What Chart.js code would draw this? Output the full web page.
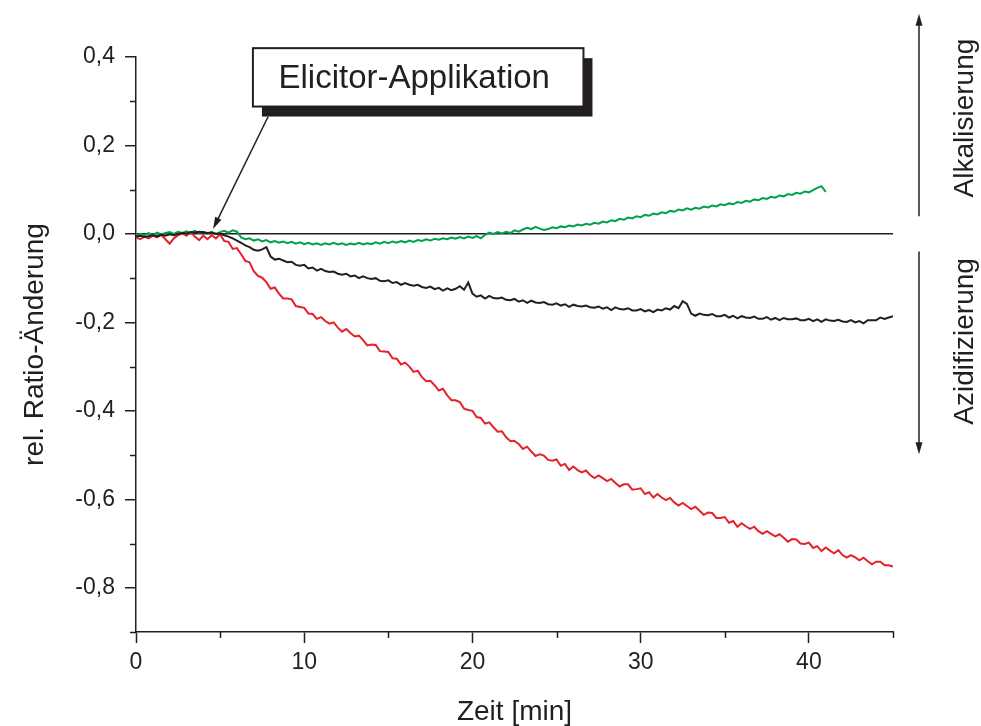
<!DOCTYPE html>
<html lang="de">
<head>
<meta charset="utf-8">
<title>Ratio-Änderung</title>
<script src="https://cdn.jsdelivr.net/npm/chart.js@4/dist/chart.umd.min.js"></script>
<style>
  body { margin: 0; background: #fff; }
  canvas { display: block; }
</style>
</head>
<body>
<canvas id="grafik" width="981" height="726"></canvas>
<script>
// Messzeit in Minuten, ein Wert alle 0,25 min
const zeitSchritt = 0.25;

// rel. Ratio-Änderung, rote Kurve (0 bis 45 min)
const ratioRot = [
  -0.008, -0.012, -0.006, -0.010, -0.004, -0.008, -0.002, -0.012, -0.022, -0.010,
  -0.003, 0.002, -0.004, 0.004, -0.006, -0.014, -0.004, -0.012, -0.003, -0.010,
  -0.001, -0.016, -0.018, -0.034, -0.032, -0.046, -0.061, -0.064, -0.084, -0.095,
  -0.099, -0.109, -0.124, -0.121, -0.135, -0.146, -0.146, -0.148, -0.163, -0.165,
  -0.167, -0.180, -0.181, -0.192, -0.188, -0.197, -0.203, -0.200, -0.212, -0.221,
  -0.215, -0.224, -0.232, -0.230, -0.240, -0.252, -0.250, -0.251, -0.265, -0.266,
  -0.267, -0.281, -0.282, -0.295, -0.291, -0.300, -0.312, -0.309, -0.324, -0.333,
  -0.332, -0.342, -0.354, -0.350, -0.365, -0.376, -0.376, -0.380, -0.395, -0.398,
  -0.400, -0.414, -0.416, -0.429, -0.426, -0.437, -0.447, -0.446, -0.460, -0.468,
  -0.468, -0.475, -0.486, -0.481, -0.492, -0.502, -0.498, -0.501, -0.511, -0.513,
  -0.510, -0.524, -0.520, -0.534, -0.526, -0.534, -0.539, -0.535, -0.545, -0.552,
  -0.546, -0.552, -0.559, -0.554, -0.563, -0.571, -0.566, -0.566, -0.578, -0.577,
  -0.575, -0.588, -0.584, -0.596, -0.588, -0.596, -0.602, -0.597, -0.607, -0.614,
  -0.608, -0.615, -0.622, -0.617, -0.626, -0.635, -0.630, -0.631, -0.642, -0.642,
  -0.640, -0.653, -0.649, -0.662, -0.654, -0.661, -0.667, -0.662, -0.672, -0.678,
  -0.672, -0.678, -0.684, -0.679, -0.687, -0.696, -0.690, -0.691, -0.700, -0.701,
  -0.698, -0.710, -0.706, -0.717, -0.709, -0.716, -0.722, -0.715, -0.726, -0.732,
  -0.726, -0.731, -0.738, -0.732, -0.740, -0.747, -0.741, -0.741, -0.749, -0.749,
  -0.752
];

// schwarze Kurve (0 bis 45 min)
const ratioSchwarz = [
  -0.006, -0.004, -0.007, -0.005, -0.003, -0.005, -0.002, -0.004, -0.001, -0.003,
  0.000, 0.002, 0.001, 0.004, 0.003, 0.005, 0.004, 0.002, 0.003, 0.000,
  0.001, -0.003, -0.006, -0.010, -0.015, -0.020, -0.026, -0.030, -0.036, -0.038,
  -0.035, -0.030, -0.051, -0.058, -0.056, -0.060, -0.064, -0.063, -0.070, -0.072,
  -0.070, -0.078, -0.076, -0.083, -0.079, -0.084, -0.086, -0.085, -0.090, -0.092,
  -0.090, -0.096, -0.094, -0.100, -0.096, -0.100, -0.102, -0.100, -0.106, -0.107,
  -0.105, -0.111, -0.109, -0.115, -0.111, -0.115, -0.117, -0.115, -0.120, -0.122,
  -0.119, -0.125, -0.122, -0.128, -0.123, -0.127, -0.124, -0.118, -0.126, -0.110,
  -0.135, -0.142, -0.139, -0.146, -0.140, -0.145, -0.146, -0.144, -0.149, -0.150,
  -0.147, -0.153, -0.150, -0.156, -0.151, -0.155, -0.156, -0.154, -0.159, -0.160,
  -0.157, -0.162, -0.159, -0.165, -0.160, -0.163, -0.164, -0.162, -0.166, -0.167,
  -0.164, -0.169, -0.166, -0.172, -0.166, -0.170, -0.171, -0.168, -0.173, -0.173,
  -0.170, -0.175, -0.172, -0.177, -0.171, -0.173, -0.168, -0.171, -0.163, -0.168,
  -0.152, -0.158, -0.180, -0.185, -0.180, -0.183, -0.184, -0.181, -0.186, -0.186,
  -0.183, -0.189, -0.185, -0.191, -0.186, -0.189, -0.190, -0.187, -0.192, -0.192,
  -0.188, -0.194, -0.190, -0.195, -0.190, -0.193, -0.193, -0.191, -0.195, -0.195,
  -0.192, -0.197, -0.193, -0.199, -0.193, -0.196, -0.197, -0.194, -0.198, -0.199,
  -0.195, -0.200, -0.197, -0.202, -0.195, -0.195, -0.195, -0.189, -0.192, -0.189,
  -0.186
];

// grüne Kurve (0 bis 41 min)
const ratioGruen = [
  -0.004, 0.000, -0.003, 0.002, -0.002, 0.003, -0.001, 0.002, 0.004, 0.000,
  0.005, 0.002, 0.006, 0.003, 0.007, 0.002, 0.005, 0.001, 0.004, 0.000,
  0.004, 0.007, 0.003, 0.008, 0.005, -0.008, -0.012, -0.010, -0.015, -0.012,
  -0.017, -0.014, -0.019, -0.016, -0.020, -0.017, -0.021, -0.018, -0.022, -0.019,
  -0.023, -0.020, -0.024, -0.021, -0.025, -0.021, -0.024, -0.020, -0.024, -0.021,
  -0.025, -0.022, -0.024, -0.020, -0.024, -0.021, -0.023, -0.019, -0.022, -0.018,
  -0.021, -0.017, -0.020, -0.016, -0.019, -0.015, -0.018, -0.014, -0.016, -0.012,
  -0.015, -0.011, -0.013, -0.010, -0.012, -0.008, -0.011, -0.007, -0.010, -0.006,
  -0.009, -0.005, -0.010, -0.002, 0.003, 0.000, 0.004, 0.001, 0.005, 0.002,
  0.008, 0.005, 0.010, 0.014, 0.011, 0.016, 0.012, 0.009, 0.011, 0.015,
  0.013, 0.017, 0.015, 0.019, 0.017, 0.021, 0.019, 0.023, 0.021, 0.025,
  0.023, 0.028, 0.026, 0.031, 0.029, 0.034, 0.032, 0.037, 0.035, 0.040,
  0.038, 0.043, 0.041, 0.046, 0.044, 0.049, 0.047, 0.052, 0.050, 0.055,
  0.053, 0.058, 0.055, 0.059, 0.057, 0.062, 0.060, 0.064, 0.062, 0.067,
  0.065, 0.069, 0.067, 0.072, 0.070, 0.075, 0.073, 0.078, 0.076, 0.081,
  0.079, 0.084, 0.082, 0.087, 0.085, 0.090, 0.088, 0.093, 0.091, 0.096,
  0.094, 0.099, 0.104, 0.108, 0.095
];

const farbeRot = '#e52229';
const farbeSchwarz = '#231f20';
const farbeGruen = '#00a14b';
const tinte = '#231f20';
const schrift = "'Liberation Sans', Arial, sans-serif";

function punkte(werte) {
  return werte.map((v, i) => ({ x: i * zeitSchritt, y: v }));
}

const istHauptX = v => Math.round(v) % 10 === 0;
const istHauptY = v => Math.round(v * 10) % 2 === 0;

// kurze Zwischenstriche, Hinweiskasten mit Pfeil und die Beschriftung rechts
const zusatz = {
  id: 'zusatz',
  afterDraw(chart) {
    const { ctx, chartArea } = chart;
    const sx = chart.scales.x, sy = chart.scales.y;
    ctx.save();
    ctx.strokeStyle = tinte;
    ctx.fillStyle = tinte;
    ctx.lineWidth = 1.5;

    ctx.beginPath();
    sx.ticks.forEach(t => {
      if (istHauptX(t.value)) return;
      const px = Math.round(sx.getPixelForValue(t.value)) + 0.5;
      ctx.moveTo(px, chartArea.bottom);
      ctx.lineTo(px, chartArea.bottom + 6);
    });
    sy.ticks.forEach(t => {
      if (istHauptY(t.value)) return;
      const py = Math.round(sy.getPixelForValue(t.value)) + 0.5;
      ctx.moveTo(chartArea.left, py);
      ctx.lineTo(chartArea.left - 6, py);
    });
    ctx.stroke();

    // Kasten "Elicitor-Applikation"
    const bx0 = sx.getPixelForValue(6.95), bx1 = sx.getPixelForValue(26.6);
    const by0 = sy.getPixelForValue(0.42), by1 = sy.getPixelForValue(0.288);
    ctx.fillRect(bx0 + 9, by0 + 10, bx1 - bx0, by1 - by0);
    ctx.fillStyle = '#fff';
    ctx.fillRect(bx0, by0, bx1 - bx0, by1 - by0);
    ctx.lineWidth = 2;
    ctx.strokeRect(bx0, by0, bx1 - bx0, by1 - by0);
    ctx.fillStyle = tinte;
    ctx.font = '33px ' + schrift;
    ctx.textAlign = 'center';
    ctx.textBaseline = 'alphabetic';
    ctx.fillText('Elicitor-Applikation', (bx0 + bx1) / 2 - 4, by1 - 19);

    const pfeil = (x0, y0, x1, y1, spitze, breite) => {
      const w = Math.atan2(y1 - y0, x1 - x0);
      ctx.beginPath();
      ctx.moveTo(x0, y0);
      ctx.lineTo(x1 - Math.cos(w) * spitze * 0.8, y1 - Math.sin(w) * spitze * 0.8);
      ctx.stroke();
      ctx.beginPath();
      ctx.moveTo(x1, y1);
      ctx.lineTo(x1 - Math.cos(w) * spitze - Math.sin(w) * breite, y1 - Math.sin(w) * spitze + Math.cos(w) * breite);
      ctx.lineTo(x1 - Math.cos(w) * spitze + Math.sin(w) * breite, y1 - Math.sin(w) * spitze - Math.cos(w) * breite);
      ctx.closePath();
      ctx.fill();
    };

    ctx.lineWidth = 1.5;
    pfeil(sx.getPixelForValue(7.85), sy.getPixelForValue(0.265),
          sx.getPixelForValue(4.58), sy.getPixelForValue(0.011), 12, 3.5);

    // Richtungspfeile rechts vom Diagramm
    const ax = chartArea.right + 26;
    pfeil(ax, sy.getPixelForValue(0.04), ax, sy.getPixelForValue(0.498), 12, 3.5);
    pfeil(ax, sy.getPixelForValue(-0.04), ax, sy.getPixelForValue(-0.498), 12, 3.5);

    ctx.font = '28px ' + schrift;
    ctx.textBaseline = 'middle';
    [['Alkalisierung', 0.262], ['Azidifizierung', -0.243]].forEach(([text, v]) => {
      ctx.save();
      ctx.translate(chartArea.right + 72, sy.getPixelForValue(v));
      ctx.rotate(-Math.PI / 2);
      ctx.fillText(text, 0, 0);
      ctx.restore();
    });
    ctx.restore();
  }
};

Chart.defaults.font.family = schrift;
Chart.defaults.color = tinte;

new Chart(document.getElementById('grafik'), {
  type: 'line',
  data: {
    datasets: [
      { data: punkte(ratioSchwarz), borderColor: farbeSchwarz },
      { data: punkte(ratioGruen), borderColor: farbeGruen },
      { data: punkte(ratioRot), borderColor: farbeRot }
    ]
  },
  options: {
    responsive: false,
    animation: false,
    parsing: false,
    layout: { padding: { top: 57, right: 88, left: 0, bottom: 0 } },
    elements: {
      line: { borderWidth: 2, tension: 0, fill: false },
      point: { radius: 0 }
    },
    plugins: {
      legend: { display: false },
      tooltip: { enabled: false }
    },
    scales: {
      x: {
        type: 'linear',
        min: 0,
        max: 45,
        afterFit(s) { s.height = 94; },
        border: { display: true, color: tinte, width: 1.5 },
        grid: {
          drawOnChartArea: false,
          tickLength: 11,
          tickWidth: 1.5,
          tickColor: c => istHauptX(c.tick.value) ? tinte : 'rgba(0,0,0,0)'
        },
        ticks: {
          stepSize: 5,
          padding: 6,
          maxRotation: 0,
          autoSkip: false,
          font: { size: 23 },
          callback: v => istHauptX(v) && v < 45 ? String(v) : ''
        },
        title: {
          display: true,
          text: 'Zeit [min]',
          font: { size: 28, lineHeight: 1 },
          padding: { top: 0, bottom: 0 }
        }
      },
      y: {
        min: -0.9,
        max: 0.4,
        afterFit(s) { s.width = 136; },
        border: { display: true, color: tinte, width: 1.5 },
        grid: {
          drawOnChartArea: true,
          color: c => Math.abs(c.tick.value) < 1e-9 ? tinte : 'rgba(0,0,0,0)',
          lineWidth: 1.5,
          tickLength: 11,
          tickWidth: 1.5,
          tickColor: c => istHauptY(c.tick.value) ? tinte : 'rgba(0,0,0,0)'
        },
        ticks: {
          stepSize: 0.1,
          padding: 10,
          autoSkip: false,
          font: { size: 23 },
          callback: v => istHauptY(v) ? (Math.round(v * 10) / 10).toFixed(1).replace('.', ',') : ''
        },
        title: {
          display: true,
          text: 'rel. Ratio-Änderung',
          font: { size: 28 },
          padding: { top: 18, bottom: 0 }
        }
      }
    }
  },
  plugins: [zusatz]
});
</script>
</body>
</html>
